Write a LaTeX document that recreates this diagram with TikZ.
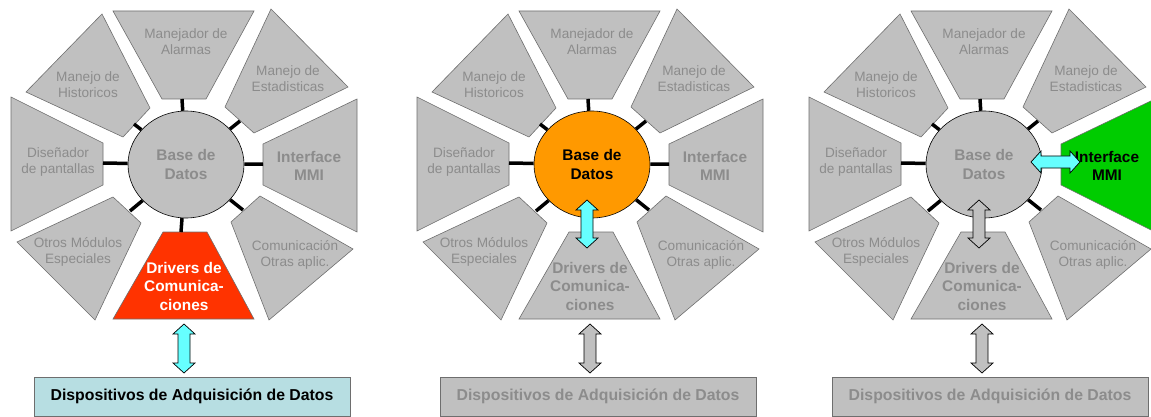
\documentclass[tikz,border=0pt]{standalone}
\usepackage{fontspec}
\setmainfont{Liberation Sans}
\usetikzlibrary{shapes.geometric,calc}

\definecolor{secgray}{RGB}{192,192,192}
\definecolor{dimtext}{RGB}{140,140,140}
\definecolor{edgegray}{RGB}{110,110,110}
\definecolor{drvred}{RGB}{255,51,0}
\definecolor{hubor}{RGB}{255,153,0}
\definecolor{mmigreen}{RGB}{0,204,0}
\definecolor{flowcyan}{RGB}{102,255,255}
\definecolor{devblue}{RGB}{183,222,226}

% flecha doble gruesa entre dos puntos con nombre
\newcommand{\dblarrow}[3]{%
  \draw[flow, fill=#3] (#1)
    -- ($(#1)!10pt!(#2)!11pt!90:(#2)$) -- ($(#1)!10pt!(#2)!6pt!90:(#2)$)
    -- ($(#2)!10pt!(#1)!6pt!-90:(#1)$) -- ($(#2)!10pt!(#1)!11pt!-90:(#1)$)
    -- (#2)
    -- ($(#2)!10pt!(#1)!11pt!90:(#1)$) -- ($(#2)!10pt!(#1)!6pt!90:(#1)$)
    -- ($(#1)!10pt!(#2)!6pt!-90:(#2)$) -- ($(#1)!10pt!(#2)!11pt!-90:(#2)$)
    -- cycle;}

% un octogono completo; #1 = prefijo de nombres
\newcommand{\octpanel}[1]{%
  % sectores del octogono
  \draw[sector] (113,11) -- (254,11) -- (206,99) -- (162,99) -- cycle; % alarmas
  \draw[sector] (271,9) -- (348,87) -- (254,133) -- (225,107) -- cycle; % estadisticas
  \draw[sector, mmi] (263,144) -- (357,99) -- (357,232) -- (263,185) -- cycle; % interface
  \draw[sector] (260,196) -- (353,249) -- (269,320) -- (231,222) -- cycle; % comunicacion
  \draw[sector, drv] (163,232) -- (207,232) -- (254,319) -- (113,319) -- cycle; % drivers
  \draw[sector] (113,197) -- (141,223) -- (95,320) -- (17,242) -- cycle; % otros
  \draw[sector] (11,97) -- (103,143) -- (103,185) -- (11,231) -- cycle; % disenador
  \draw[sector] (26,92) -- (102,14) -- (150,108) -- (123,137) -- cycle; % historicos

  % textos de los sectores
  \node[lbl] (#1alarm) at (186,42) {Manejador de\\Alarmas};
  \node[lbl] (#1hist) at (88,85) {Manejo de\\Historicos};
  \node[lbl] (#1estad) at (288,79) {Manejo de\\Estadisticas};
  \node[lbl] (#1disen) at (58,162) {Diseñador\\de pantallas};
  \node[blbl, mmitxt] (#1mmi) at (309,166) {Interface\\MMI};
  \node[lbl] (#1otros) at (78,252) {Otros Módulos\\Especiales};
  \node[lbl] (#1comun) at (295,255) {Comunicación\\Otras aplic.};
  \node[blbl, drvtxt] (#1drv) at (184,286) {Drivers de\\Comunica-\\ciones};

  % base de datos en el centro
  \node[hubshape, hub] (#1hub) at (186,164.5) {Base de\\Datos};

  % uniones cortas hacia el centro
  \coordinate (#1t1) at (182,99);
  \coordinate (#1t2) at (240,121);
  \coordinate (#1t3) at (263,164);
  \coordinate (#1t4) at (243,210);
  \coordinate (#1t5) at (181,232);
  \coordinate (#1t6) at (130,211);
  \coordinate (#1t7) at (103,163);
  \coordinate (#1t8) at (134,124);
  \foreach \t in {1,...,8} {\draw[spoke] (#1t\t) -- (#1hub);}

  % dispositivos
  \node[devbox, dev] (#1dev) at (192,396.5) {Dispositivos de Adquisición de Datos};

  % extremos de las flechas
  \coordinate (#1low1) at (184,324);
  \coordinate (#1low2) at (184,373);
  \coordinate (#1mid1) at (181,200);
  \coordinate (#1mid2) at (181,248);
  \coordinate (#1side1) at (233,162);
  \coordinate (#1side2) at (282,162);
}

\begin{document}
\begin{tikzpicture}[x=1pt, y=-1pt,
    sector/.style={fill=secgray, draw=edgegray, line width=0.6pt},
    lbl/.style={text=dimtext, align=center, inner sep=0pt,
      font=\fontsize{13.6}{16}\selectfont},
    blbl/.style={lbl, font=\fontsize{15.4}{18.5}\selectfont\bfseries},
    hubshape/.style={ellipse, draw=black, line width=0.6pt, fill=secgray,
      minimum width=116, minimum height=107, blbl},
    devbox/.style={rectangle, draw=edgegray, line width=0.8pt,
      minimum width=316, minimum height=39,
      font=\fontsize{15.8}{18.5}\selectfont\bfseries},
    spoke/.style={line width=3.5pt},
    flow/.style={draw=black, line width=0.7pt},
    % estilos que cambia cada panel
    hub/.style={}, mmi/.style={}, mmitxt/.style={},
    drv/.style={}, drvtxt/.style={},
    dev/.style={fill=secgray, text=dimtext}]

  \useasboundingbox (0,0) rectangle (1151,417);

  % panel 1: drivers de comunicaciones
  \begin{scope}[drv/.style={fill=drvred}, drvtxt/.style={text=white},
      dev/.style={fill=devblue, text=black}]
    \octpanel{a}
    \dblarrow{alow1}{alow2}{flowcyan}
  \end{scope}

  % panel 2: base de datos
  \begin{scope}[shift={(406,0)}, hub/.style={fill=hubor, text=black}]
    \octpanel{b}
    \dblarrow{bmid1}{bmid2}{flowcyan}
    \dblarrow{blow1}{blow2}{secgray}
  \end{scope}

  % panel 3: interface MMI
  \begin{scope}[shift={(798,0)}, mmi/.style={fill=mmigreen},
      mmitxt/.style={text=black}]
    \octpanel{c}
    \dblarrow{cmid1}{cmid2}{secgray}
    \dblarrow{clow1}{clow2}{secgray}
    \dblarrow{cside1}{cside2}{flowcyan}
  \end{scope}

\end{tikzpicture}
\end{document}
